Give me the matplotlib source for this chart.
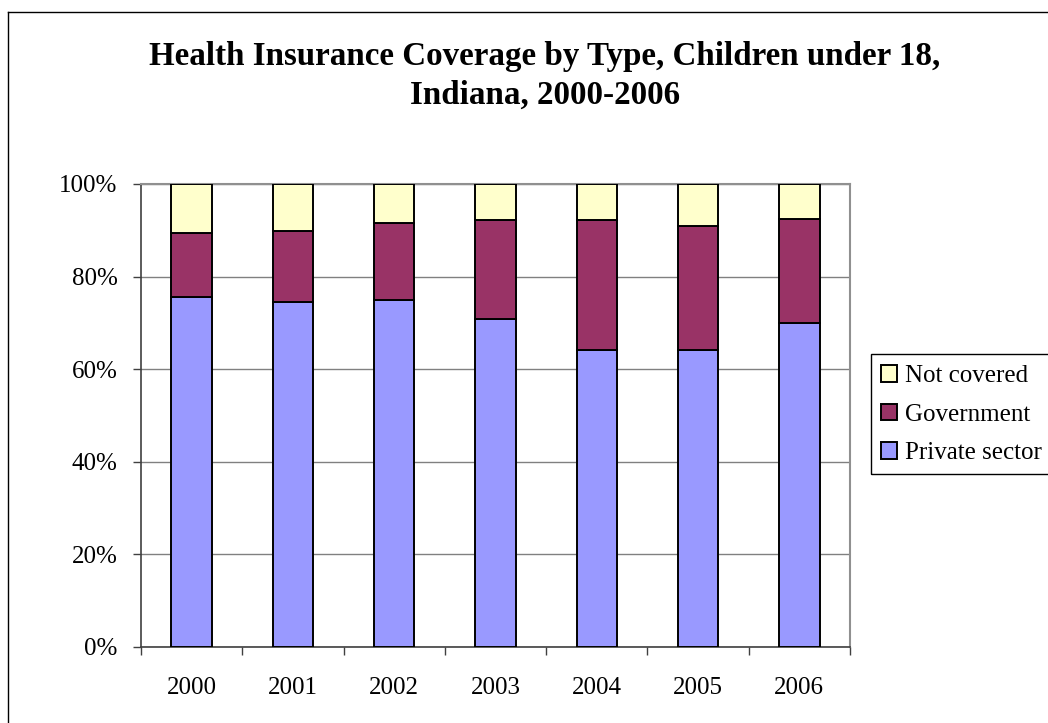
import matplotlib
matplotlib.use("Agg")
import matplotlib.pyplot as plt
from matplotlib.patches import Patch, Rectangle
from matplotlib.lines import Line2D
import numpy as np

years = ["2000", "2001", "2002", "2003", "2004", "2005", "2006"]
private_sector = [75.5, 74.5, 75.0, 70.9, 64.1, 64.1, 70.0]
government = [13.9, 15.4, 16.5, 21.3, 28.2, 26.8, 22.5]
not_covered = [10.6, 10.1, 8.5, 7.8, 7.7, 9.1, 7.5]
y_ticks = [0, 20, 40, 60, 80, 100]
y_tick_labels = ["0%", "20%", "40%", "60%", "80%", "100%"]

c_private = "#9999FF"
c_gov = "#993366"
c_nc = "#FFFFCC"

plt.rcParams['font.family'] = ['Liberation Serif', 'DejaVu Serif']

W, H = 1048, 723
fig = plt.figure(figsize=(W / 100, H / 100), dpi=100)
ax = fig.add_axes([141 / W, 1 - 646.7 / H, (850 - 141) / W, (646.7 - 184) / H])

x = np.arange(len(years))
bw = 0.40
lw = 1.4
ax.bar(x, private_sector, bw, color=c_private, edgecolor="black", linewidth=lw, zorder=3)
ax.bar(x, government, bw, bottom=private_sector, color=c_gov, edgecolor="black", linewidth=lw, zorder=3)
bottom2 = [p + g for p, g in zip(private_sector, government)]
ax.bar(x, not_covered, bw, bottom=bottom2, color=c_nc, edgecolor="black", linewidth=lw, zorder=3)

ax.set_xlim(-0.5, len(years) - 0.5)
ax.set_ylim(0, 100)
ax.set_yticks(y_ticks)
ax.set_yticklabels(y_tick_labels, fontsize=18)
ax.yaxis.grid(True, color="#808080", linewidth=1.0, zorder=0)
ax.set_axisbelow(True)

ax.set_xticks(x)
ax.set_xticklabels(years, fontsize=18)
ax.tick_params(axis="x", which="major", length=0, pad=22)
ax.set_xticks(np.arange(-0.5, len(years) + 0.5, 1), minor=True)
ax.tick_params(axis="x", which="minor", length=6, width=1, color="#404040", direction="out")
ax.tick_params(axis="y", length=6, width=1, color="#404040", direction="out", pad=11)

for s in ["top", "right"]:
    ax.spines[s].set_color("#909090")
    ax.spines[s].set_linewidth(1.5)
for s in ["left", "bottom"]:
    ax.spines[s].set_color("#404040")
    ax.spines[s].set_linewidth(1.2)

fig.text(545 / W, 1 - 64.5 / H, "Health Insurance Coverage by Type, Children under 18,",
         ha="center", va="baseline", fontsize=23.8, fontweight="bold")
fig.text(545 / W, 1 - 104 / H, "Indiana, 2000-2006",
         ha="center", va="baseline", fontsize=23.8, fontweight="bold")

handles = [Patch(facecolor=c_nc, edgecolor="black", linewidth=1.4, label="Not covered"),
           Patch(facecolor=c_gov, edgecolor="black", linewidth=1.4, label="Government"),
           Patch(facecolor=c_private, edgecolor="black", linewidth=1.4, label="Private sector")]
leg = fig.legend(handles=handles, loc="upper left", bbox_to_anchor=(870 / W, 1 - 354 / H),
                 fontsize=18, frameon=False,
                 handlelength=0.64, handleheight=0.64, handletextpad=0.3,
                 borderpad=0.45, labelspacing=0.66, borderaxespad=0)

# legend frame (extends past the right edge as in the reference)
fig.add_artist(Rectangle((870.5 / W, 1 - 474 / H), (1070 - 870.5) / W, (474 - 354) / H,
                         transform=fig.transFigure, fill=False, edgecolor="black",
                         linewidth=1.0, clip_on=False))

fig.add_artist(Line2D([7.5 / W, 7.5 / W], [0, 1 - 11.5 / H], transform=fig.transFigure,
                      color="black", linewidth=1.0))
fig.add_artist(Line2D([7.5 / W, 1.0], [1 - 11.5 / H, 1 - 11.5 / H], transform=fig.transFigure,
                      color="black", linewidth=1.0))

fig.savefig("out.png", dpi=100)
